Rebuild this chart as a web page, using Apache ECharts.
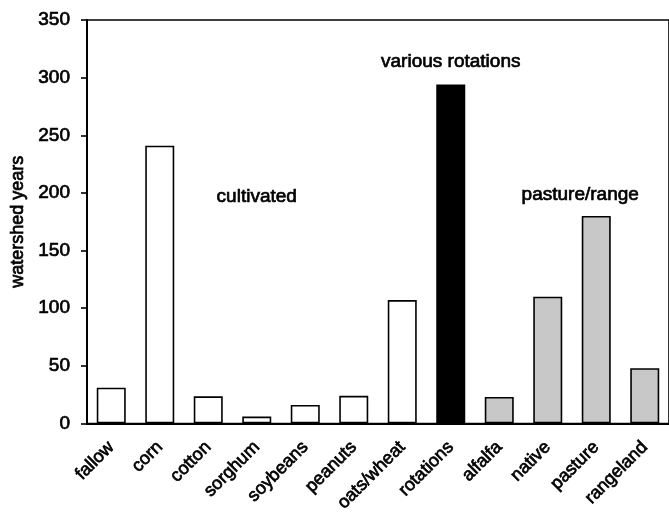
<!DOCTYPE html>
<html>
<head>
<meta charset="utf-8">
<script src="https://cdn.jsdelivr.net/npm/echarts@6/dist/echarts.min.js"></script>
<style>html,body{margin:0;padding:0;background:#fff}#c{width:669px;height:515px}</style>
</head>
<body>
<div id="c"></div>
<script>
const categories = ['fallow','corn','cotton','sorghum','soybeans','peanuts','oats/wheat','rotations','alfalfa','native','pasture','rangeland'];
const values = [31, 241, 23.5, 6, 16, 24, 107, 294, 23, 110, 180, 48];
const groups = ['cultivated','cultivated','cultivated','cultivated','cultivated','cultivated','cultivated','rotation','pasture','pasture','pasture','pasture'];
const yTicks = [0, 50, 100, 150, 200, 250, 300, 350];
const annotations = [
  {text: 'cultivated', cat: 3, value: 197},
  {text: 'various rotations', cat: 7, value: 314},
  {text: 'pasture/range', cat: 9.67, value: 198}
];
const groupColor = {cultivated: '#ffffff', rotation: '#000000', pasture: '#c8c8c8'};
const FONT = 'Liberation Sans, Arial, sans-serif';
const heavy = {textBorderColor: '#000', textBorderWidth: 0.7};

const chart = echarts.init(document.getElementById('c'), null, {renderer: 'canvas'});
chart.setOption({
  animation: false,
  backgroundColor: '#fff',
  grid: {left: 87, top: 20, width: 584, bottom: 89, show: true, borderColor: '#000', borderWidth: 1.6, backgroundColor: 'transparent'},
  xAxis: {
    type: 'category',
    data: categories,
    axisLine: {lineStyle: {color: '#000', width: 2}},
    axisTick: {alignWithLabel: true, length: 6, lineStyle: {color: '#000', width: 1.6}},
    axisLabel: Object.assign({rotate: 45, interval: 0, margin: 21, color: '#000', fontSize: 18, fontFamily: FONT}, heavy)
  },
  yAxis: {
    type: 'value',
    min: 0, max: 350, interval: 50,
    name: 'watershed years',
    nameLocation: 'middle',
    nameGap: 60,
    nameTextStyle: Object.assign({color: '#000', fontSize: 18, fontFamily: FONT}, heavy),
    axisLine: {show: true, lineStyle: {color: '#000', width: 2}},
    axisTick: {show: true, length: 6, lineStyle: {color: '#000', width: 1.6}},
    splitLine: {show: false},
    axisLabel: Object.assign({color: '#000', fontSize: 19, fontFamily: FONT, margin: 17,
      formatter: v => yTicks.includes(v) ? String(v) : ''}, heavy)
  },
  series: [{
    type: 'bar',
    barWidth: 29,
    data: values.map((v, i) => ({value: v, itemStyle: {color: groupColor[groups[i]], borderColor: '#000', borderWidth: 1.6}}))
  }]
});

function catPixel(f, v) {
  const i = Math.floor(f);
  const p0 = chart.convertToPixel({seriesIndex: 0}, [i, v]);
  if (f === i) return p0;
  const p1 = chart.convertToPixel({seriesIndex: 0}, [i + 1, v]);
  return [p0[0] + (f - i) * (p1[0] - p0[0]), p0[1]];
}
const texts = annotations.map(a => {
  const p = catPixel(a.cat, a.value);
  return {type: 'text', x: p[0], y: p[1], style: Object.assign({text: a.text, fill: '#000', font: '19px ' + FONT, align: 'center', verticalAlign: 'middle', stroke: '#000', lineWidth: 0.7})};
});
chart.setOption({graphic: texts});
</script>
</body>
</html>
